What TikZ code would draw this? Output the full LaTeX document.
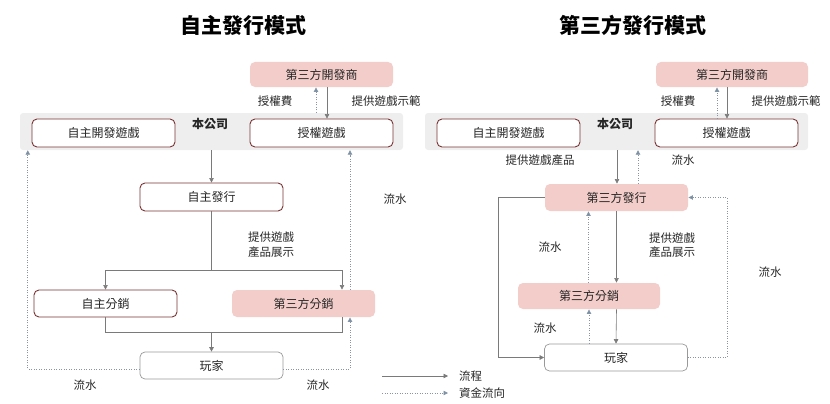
\documentclass[tikz,border=0pt]{standalone}
\usepackage{fontspec}
\setmainfont{Noto Sans CJK TC}
\usetikzlibrary{arrows.meta,calc}
\definecolor{pinkfill}{HTML}{F2CDC9}
\definecolor{darkred}{HTML}{7B3434}
\definecolor{bandgrey}{HTML}{EEEEEE}
\definecolor{flowgrey}{HTML}{7A7A7A}
\definecolor{moneyblue}{HTML}{8595A5}
\definecolor{tipblue}{HTML}{6F8CA8}
\tikzset{
  box/.style={draw=darkred,line width=0.9pt,rounded corners=5pt,fill=white,minimum width=143pt,minimum height=28pt,inner sep=0pt,font=\fontsize{12}{14}\selectfont,text=black!85},
  pinkbox/.style={box,draw=none,fill=pinkfill},
  playerbox/.style={box,draw=black!40,line width=0.7pt},
  band/.style={fill=bandgrey,rounded corners=3pt,minimum width=383pt,minimum height=37pt,inner sep=0pt},
  flow/.style={draw=flowgrey,line width=0.6pt,-{Triangle[length=4.5pt,width=4.5pt]}},
  flowline/.style={draw=flowgrey,line width=0.6pt},
  money/.style={draw=moneyblue,line width=0.8pt,dash pattern=on 0.9pt off 1.6pt,-{Triangle[length=4.5pt,width=4.5pt,fill=tipblue]}},
  lbl/.style={font=\fontsize{11.5}{13}\selectfont,text=black!85,inner sep=0pt},
  ttl/.style={font=\fontsize{21}{24}\selectfont\bfseries,inner sep=0pt},
}
\begin{document}
\begin{tikzpicture}[x=1pt,y=-1pt]
\useasboundingbox (0,0) rectangle (830,404);
% ---------------- titles
\node[ttl] (t1) at (243,25) {自主發行模式};
\node[ttl] (t2) at (633,25) {第三方發行模式};

% ================= LEFT DIAGRAM
\node[band] (Lband) at (211.5,131.5) {};
\node[lbl,font=\fontsize{12}{14}\selectfont\bfseries] (Lcomp) at (210,124) {本公司};
\node[pinkbox,minimum height=25pt] (Ldev) at (321.5,74.5) {第三方開發商};
\node[box] (Lown) at (103.5,133) {自主開發遊戲};
\node[box] (Llic) at (321.5,133) {授權遊戲};
\node[box] (Lpub) at (211.5,197) {自主發行};
\node[box,minimum height=27pt] (Lself) at (105.5,303.5) {自主分銷};
\node[pinkbox,minimum height=27pt] (L3d) at (303.5,303.5) {第三方分銷};
\node[playerbox,minimum height=27pt] (Lplay) at (211.5,365.5) {玩家};

\coordinate (Lsplit) at (211.5,270);
\coordinate (Ljoin) at (211.5,332);

% flows
\draw[flow] ($(Ldev.south)+(5.5,0)$) -- ($(Llic.north)+(5.5,0)$);
\draw[money] ($(Lband.north)+(104.5,0)$) -- ($(Ldev.south)+(-5.5,0)$);
\draw[flow] (Lband.south) -- (Lpub.north);
\draw[flowline] (Lpub.south) -- (Lsplit);
\draw[flow] (Lsplit) -| (Lself.north);
\draw[flow] (Lsplit) -| ($(L3d.north)+(38.5,0)$);
\draw[flowline] (Lself.south) |- (Ljoin);
\draw[flowline] ($(L3d.south)+(38.5,0)$) |- (Ljoin);
\draw[flow] (Ljoin) -- (Lplay.north);
% money
\draw[money] ($(Lplay.west)+(0,3.5)$) -| ($(Lband.south west)+(8,0)$);
\draw[money] ($(Lplay.east)+(0,3.5)$) -| ($(L3d.south)+(46.5,0)$);
\draw[money] ($(L3d.north)+(46.5,0)$) -- ($(Lband.south)+(138.5,0)$);

% labels
\node[lbl] (La) at (275,101) {授權費};
\node[lbl] (Lb) at (386,101) {提供遊戲示範};
\node[lbl] (Lc) at (271,237) {提供遊戲};
\node[lbl] (Ld) at (271,252) {產品展示};
\node[lbl] (Le) at (395,199) {流水};
\node[lbl] (Lf) at (85,385) {流水};
\node[lbl] (Lg) at (318,385) {流水};

% ================= RIGHT DIAGRAM
\node[band] (Rband) at (616.5,131.5) {};
\node[lbl,font=\fontsize{12}{14}\selectfont\bfseries] (Rcomp) at (615,124) {本公司};
\node[pinkbox,minimum width=152pt,minimum height=25pt] (Rdev) at (732,74.5) {第三方開發商};
\node[box] (Rown) at (508.5,133) {自主開發遊戲};
\node[box] (Rlic) at (726.5,133) {授權遊戲};
\node[pinkbox,minimum height=27pt] (Rpub) at (616.5,197.5) {第三方發行};
\node[pinkbox,minimum width=142pt,minimum height=26pt] (R3d) at (589,296) {第三方分銷};
\node[playerbox,minimum height=27pt] (Rplay) at (616,357.5) {玩家};

\coordinate (RLcorner) at (498,197.5);
\coordinate (RRcorner) at (727,357.5);

\draw[flow] ($(Rdev.south)+(-5,0)$) -- ($(Rlic.north)+(0.5,0)$);
\draw[money] ($(Rlic.north)+(-9.5,0)$) -- ($(Rdev.south)+(-15,0)$);
\draw[flow] ($(Rband.south)+(0.5,0)$) -- ($(Rpub.north)+(0.5,0)$);
\draw[money] ($(Rpub.north)+(21.5,0)$) -- ($(Rband.south)+(21.5,0)$);
\draw[flow] (Rpub.west) -- (RLcorner) |- (Rplay.west);
\draw[money] (Rplay.east) -- (RRcorner) |- (Rpub.east);
\draw[flow] (Rpub.south) -- ($(R3d.north)+(27.5,0)$);
\draw[money] ($(R3d.north)+(-0.5,0)$) -- ($(Rpub.south)+(-28,0)$);
\draw[flow] ($(R3d.south)+(27.5,0)$) -- (Rplay.north);
\draw[money] ($(Rplay.north)+(-27,0)$) -- (R3d.south);

\node[lbl] (Ra) at (678,101) {授權費};
\node[lbl] (Rb) at (786,101) {提供遊戲示範};
\node[lbl] (Rc) at (540,160) {提供遊戲產品};
\node[lbl] (Rd) at (683,160) {流水};
\node[lbl] (Re) at (550,247) {流水};
\node[lbl] (Rf) at (672,238) {提供遊戲};
\node[lbl] (Rg) at (672,252) {產品展示};
\node[lbl] (Rh) at (770,272) {流水};
\node[lbl] (Ri) at (545,328) {流水};

% ================= LEGEND
\coordinate (lgA1) at (382,376);
\coordinate (lgA2) at (448,376);
\coordinate (lgB1) at (382,393);
\coordinate (lgB2) at (448,393);
\draw[flow] (lgA1) -- (lgA2);
\draw[money] (lgB1) -- (lgB2);
\node[lbl,anchor=west] (lg1) at (459,376) {流程};
\node[lbl,anchor=west] (lg2) at (459,393) {資金流向};
\end{tikzpicture}
\end{document}
